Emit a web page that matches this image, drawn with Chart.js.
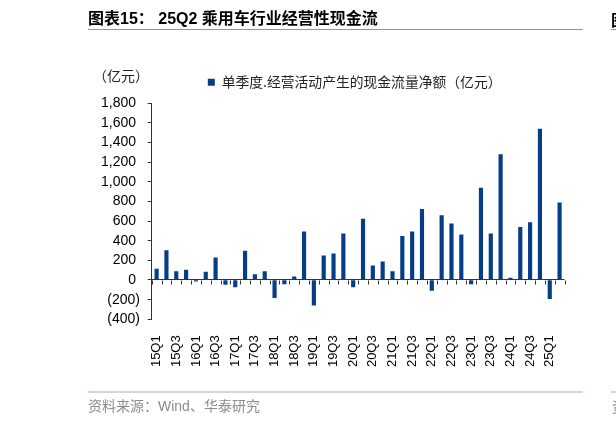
<!DOCTYPE html>
<html>
<head>
<meta charset="utf-8">
<script src="https://cdn.jsdelivr.net/npm/chart.js@4.4.1/dist/chart.umd.min.js"></script>
<style>
  html, body { margin: 0; padding: 0; background: #fff; }
  #wrap { position: relative; width: 616px; height: 423px; overflow: hidden; }
  #chart { position: absolute; left: 0; top: 0; }
  .txt { position: absolute; white-space: nowrap; }
  .rule { position: absolute; }
  #title { left: 88px; top: 9px; font: bold 16px/20px "Liberation Sans", "Noto Sans CJK SC"; color: #000; }
  #title2 { left: 611px; top: 9px; font: bold 16px/20px "Noto Sans CJK SC"; color: #000; }
  #unit { left: 93px; top: 67px; font: 14px/16px "Noto Sans CJK SC"; color: #222; }
  #source { left: 88px; top: 397px; font: 14px/18px "Liberation Sans", "Noto Sans CJK SC"; color: #8c8c8c; }
  #source2 { left: 612px; top: 397px; font: 14px/18px "Noto Sans CJK SC"; color: #8c8c8c; }
</style>
</head>
<body>
<div id="wrap">
  <canvas id="chart" width="616" height="423"></canvas>
  <div class="txt" id="title">图表15： 25Q2 乘用车行业经营性现金流</div>
  <div class="rule" style="left:88px;top:29px;width:495px;height:1px;background:#8797ae;"></div>
  <div class="txt" id="title2">图表16</div>
  <div class="rule" style="left:611px;top:29px;width:5px;height:1px;background:#8797ae;"></div>
  <div class="txt" id="unit">（亿元）</div>
  <div class="rule" style="left:88px;top:391px;width:495px;height:2px;background:#cdd6e2;"></div>
  <div class="rule" style="left:611px;top:391px;width:5px;height:2px;background:#cdd6e2;"></div>
  <div class="txt" id="source">资料来源：Wind、华泰研究</div>
  <div class="txt" id="source2">资料来源</div>
</div>
<script>
const quarters = [
  '15Q1', '15Q2', '15Q3', '15Q4', '16Q1', '16Q2', '16Q3', '16Q4',
  '17Q1', '17Q2', '17Q3', '17Q4', '18Q1', '18Q2', '18Q3', '18Q4',
  '19Q1', '19Q2', '19Q3', '19Q4', '20Q1', '20Q2', '20Q3', '20Q4',
  '21Q1', '21Q2', '21Q3', '21Q4', '22Q1', '22Q2', '22Q3', '22Q4',
  '23Q1', '23Q2', '23Q3', '23Q4', '24Q1', '24Q2', '24Q3', '24Q4',
  '25Q1', '25Q2'
];
// 单季度经营活动现金流量净额（亿元）
const cashFlow = [
  110, 300, 85, 100, -12, 80, 225, -45,
  -70, 295, 55, 85, -180, -40, 32, 490,
  -255, 245, 265, 470, -70, 620, 145, 185,
  85, 445, 490, 720, -105, 655, 570, 460,
  -40, 935, 470, 1275, 20, 535, 585, 1535,
  -190, 785
];
const yTicks = [-400, -200, 0, 200, 400, 600, 800, 1000, 1200, 1400, 1600, 1800];
const seriesName = '单季度.经营活动产生的现金流量净额（亿元）\u3000';
const barColor = '#063d87';

function fmtTick(v) {
  const s = Math.abs(v).toLocaleString('en-US');
  return v < 0 ? '(' + s + ')' : s + ' ';
}

// small tick marks hanging under the zero line, one per category boundary
const zeroTicks = {
  id: 'zeroTicks',
  afterDatasetsDraw(chart) {
    const xs = chart.scales.x, ys = chart.scales.y;
    const y0 = Math.round(ys.getPixelForValue(0)) + 0.5;
    const n = quarters.length;
    const ctx = chart.ctx;
    ctx.save();
    ctx.strokeStyle = '#333';
    ctx.lineWidth = 1;
    ctx.beginPath();
    for (let i = 0; i <= n; i++) {
      const px = Math.round(xs.left + i * xs.width / n) + 0.5;
      ctx.moveTo(px, y0);
      ctx.lineTo(px, y0 + 4);
    }
    ctx.stroke();
    ctx.restore();
  }
};

new Chart(document.getElementById('chart'), {
  type: 'bar',
  data: {
    labels: quarters,
    datasets: [{
      label: seriesName,
      data: cashFlow,
      backgroundColor: barColor,
      barThickness: 3.5,
      xAxisID: 'x',
      yAxisID: 'y'
    }]
  },
  options: {
    responsive: false,
    animation: false,
    layout: { padding: { left: 88, right: 51.5, top: 75.25, bottom: 0 } },
    plugins: {
      legend: {
        fullSize: false,
        labels: {
          boxWidth: 7,
          boxHeight: 7,
          padding: 0,
          color: '#222',
          font: { family: 'Noto Sans CJK SC', size: 13.8 }
        }
      },
      tooltip: { enabled: false }
    },
    scales: {
      x: {
        grid: { display: false, drawTicks: false },
        border: { display: false },
        ticks: {
          autoSkip: false,
          minRotation: 90,
          maxRotation: 90,
          padding: 16,
          color: '#000',
          font: { family: 'Liberation Sans', size: 13 },
          callback: (val, i) => (i % 2 === 0 ? quarters[i] : '')
        },
        afterFit: s => { s.height = 103.7; }
      },
      gap: {
        type: 'category',
        position: 'top',
        grid: { display: false, drawTicks: false },
        border: { display: false },
        ticks: { display: false },
        afterFit: s => { s.height = 4; }
      },
      y: {
        min: -400,
        max: 1800,
        afterBuildTicks: s => { s.ticks = yTicks.map(v => ({ value: v })); },
        afterFit: s => { s.width = 63.7; },
        ticks: {
          autoSkip: false,
          callback: fmtTick,
          padding: 7.7,
          color: '#000',
          font: { family: 'Liberation Sans', size: 14 }
        },
        grid: {
          drawOnChartArea: true,
          color: c => (c.tick && c.tick.value === 0 ? '#333' : 'rgba(0,0,0,0)'),
          tickColor: '#333',
          tickLength: 4
        },
        border: { color: '#333' }
      }
    }
  },
  plugins: [zeroTicks]
});
</script>
</body>
</html>
